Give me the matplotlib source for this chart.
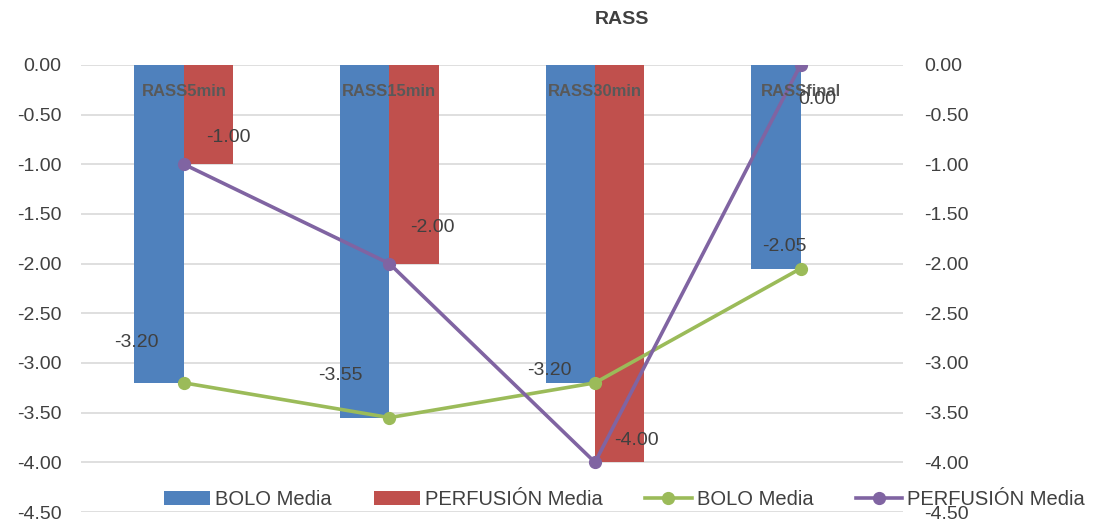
import matplotlib
matplotlib.use('Agg')
import matplotlib.pyplot as plt
import numpy as np

categories = ['RASS5min', 'RASS15min', 'RASS30min', 'RASSfinal']
bolo_bar = [-3.20, -3.55, -3.20, -2.05]
perf_bar = [-1.00, -2.00, -4.00, 0.00]
bolo_line = [-3.20, -3.55, -3.20, -2.05]
perf_line = [-1.00, -2.00, -4.00, 0.00]
yticks = [0.0, -0.5, -1.0, -1.5, -2.0, -2.5, -3.0, -3.5, -4.0, -4.5]

# label offsets (points) relative to each line marker
bolo_off = [(-34, 29), (-35, 30), (-33, 9), (-12, 16)]
perf_off = [(32, 19), (31, 26), (30, 16), (12, -25)]

plt.rcParams['font.family'] = ['Liberation Sans', 'DejaVu Sans']
txt = '#404040'

fig = plt.figure(figsize=(10.95, 5.23), dpi=100)
ax = fig.add_axes([0.074, 0.021, 0.751, 0.855])
x = np.arange(len(categories))
w = 0.24
b1 = ax.bar(x - w/2, bolo_bar, width=w, color='#4F81BD', label='BOLO Media', zorder=2)
b2 = ax.bar(x + w/2, perf_bar, width=w, color='#C0504D', label='PERFUSIÓN Media', zorder=2)
l1, = ax.plot(x, bolo_line, color='#9BBB59', lw=2.6, marker='o', ms=8.5, label='BOLO Media', zorder=3)
l2, = ax.plot(x, perf_line, color='#8064A2', lw=2.6, marker='o', ms=8.5, label='PERFUSIÓN Media', zorder=4)

ax.set_xlim(-0.5, len(categories) - 0.5)
ax.set_ylim(-4.5, 0.0)
ax.set_yticks(yticks)
ax.set_yticklabels(['%.2f' % v for v in yticks])
ax.set_xticks([])
ax.grid(axis='y', color='#D9D9D9', lw=1.2, zorder=0)
ax.tick_params(axis='y', length=0, labelsize=14, labelcolor=txt, pad=14)
for s in ax.spines.values():
    s.set_visible(False)

ax2 = ax.twinx()
ax2.set_ylim(-4.5, 0.0)
ax2.set_yticks(yticks)
ax2.set_yticklabels(['%.2f' % v for v in yticks])
ax2.tick_params(axis='y', length=0, labelsize=14, labelcolor=txt, pad=15)
for s in ax2.spines.values():
    s.set_visible(False)

for i, c in enumerate(categories):
    ax.text(i, -0.27, c, ha='center', va='center', fontsize=12, fontweight='bold',
            color='#595959', zorder=5)

for i in range(len(categories)):
    ax.annotate('%.2f' % bolo_line[i], (x[i], bolo_line[i]), xytext=bolo_off[i],
                textcoords='offset points', ha='center', va='center', fontsize=14,
                color=txt, zorder=6)
    ax.annotate('%.2f' % perf_line[i], (x[i], perf_line[i]), xytext=perf_off[i],
                textcoords='offset points', ha='center', va='center', fontsize=14,
                color=txt, zorder=6)

fig.text(0.568, 0.962, 'RASS', ha='center', va='center', fontsize=14,
         fontweight='bold', color=txt)

fig.legend(handles=[b1, b2, l1, l2], loc='center', bbox_to_anchor=(0.570, 0.044),
           ncol=4, frameon=False, fontsize=14.5, handlelength=2.3, columnspacing=2.1,
           handletextpad=0.25, labelcolor=txt)

plt.savefig('out.png', dpi=100)
